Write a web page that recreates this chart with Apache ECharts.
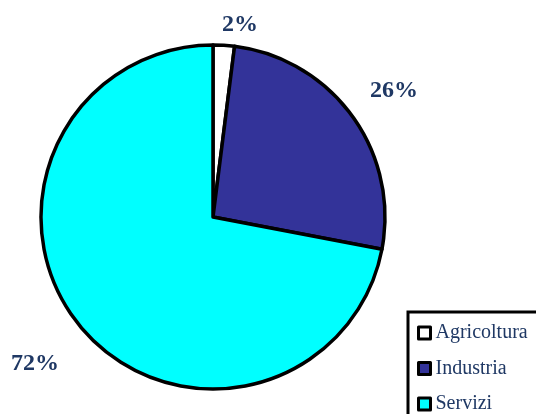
<!DOCTYPE html>
<html>
<head>
<meta charset="utf-8">
<script src="https://cdn.jsdelivr.net/npm/echarts@6/dist/echarts.min.js"></script>
<style>
html,body{margin:0;padding:0;background:#fff;}
#chart{width:536px;height:414px;}
</style>
</head>
<body>
<div id="chart"></div>
<script>
var categories = ['Agricoltura', 'Industria', 'Servizi'];
var values = [2, 26, 72];
var sliceColors = ['#FFFFFF', '#333399', '#00FFFF'];
// label placement tuning (distance beyond the rim, horizontal shift)
var labelLen = [21, 43, 59];
var labelLen2 = [15, 7, 0];

var textColor = '#1F3864';
var serif = '"Liberation Serif", "Times New Roman", "DejaVu Serif", serif';

var data = categories.map(function (name, i) {
  return {
    name: name,
    value: values[i],
    itemStyle: { color: sliceColors[i] },
    labelLine: { show: false, length: labelLen[i], length2: labelLen2[i] }
  };
});

var chart = echarts.init(document.getElementById('chart'));
chart.setOption({
  animation: false,
  backgroundColor: '#ffffff',
  legend: {
    orient: 'vertical',
    left: 408,
    top: 312,
    width: 140,
    height: 130,
    padding: [11, 40, 30, 9],
    itemGap: 15.5,
    itemWidth: 12,
    itemHeight: 12,
    icon: 'rect',
    borderColor: '#000',
    borderWidth: 3,
    borderRadius: 0,
    backgroundColor: '#fff',
    itemStyle: { borderColor: '#000', borderWidth: 3 },
    textStyle: { color: textColor, fontFamily: serif, fontSize: 20, padding: [0, 0, 0, 0] },
    data: categories
  },
  series: [{
    type: 'pie',
    center: [213, 217],
    radius: 172,
    startAngle: 90,
    clockwise: true,
    avoidLabelOverlap: false,
    itemStyle: { borderColor: '#000', borderWidth: 3.5 },
    label: {
      show: true,
      position: 'outside',
      distanceToLabelLine: 0,
      formatter: '{d}%',
      color: textColor,
      fontFamily: serif,
      fontWeight: 'bold',
      fontSize: 24
    },
    labelLine: { show: false },
    labelLayout: function () { return { align: 'center', verticalAlign: 'middle' }; },
    emphasis: { disabled: true },
    data: data
  }]
});
</script>
</body>
</html>
